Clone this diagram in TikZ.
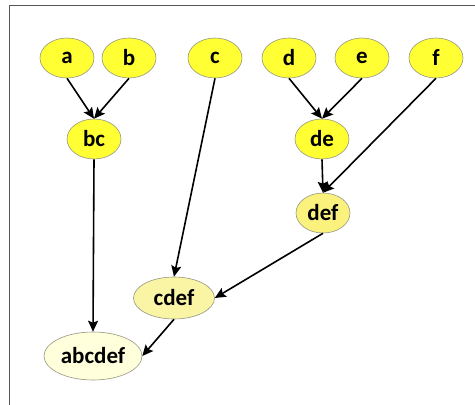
\documentclass[tikz,border=0pt]{standalone}
\usepackage{fontspec}
\setmainfont{Carlito}
\usetikzlibrary{shapes.geometric,arrows.meta}
\definecolor{leafyellow}{RGB}{255,255,51}
\definecolor{midyellow}{RGB}{250,242,125}
\definecolor{paleyellow}{RGB}{250,244,165}
\definecolor{creamyellow}{RGB}{255,255,220}
\definecolor{outlinegrey}{RGB}{150,150,130}
\definecolor{framegrey}{RGB}{85,85,85}
\tikzset{
  merge/.style={ellipse, draw=outlinegrey, line width=0.6pt, inner sep=0pt,
    minimum width=54pt, minimum height=40pt,
    font=\fontsize{23}{26}\selectfont\bfseries},
  link/.style={line width=1.6pt, -{Stealth[length=11pt,width=10pt,inset=2pt]}},
}
\begin{document}
\begin{tikzpicture}[x=1pt,y=-1pt]
  \useasboundingbox (0,0) rectangle (475,405);
  \fill[white] (0,0) rectangle (475,405);
  % frame edges
  \coordinate (frameTL) at (9.5,5.5);
  \coordinate (frameTR) at (475,5.5);
  \coordinate (frameBL) at (9.5,405);
  \draw[framegrey, line width=1.4pt] (frameTR) -- (frameTL) -- (frameBL);

  % leaves
  \node[merge, fill=leafyellow] (a) at (67,58) {a};
  \node[merge, fill=leafyellow] (b) at (129,58) {b};
  \node[merge, fill=leafyellow] (c) at (215,58) {c};
  \node[merge, fill=leafyellow] (d) at (289,58) {d};
  \node[merge, fill=leafyellow] (e) at (362,58) {e};
  \node[merge, fill=leafyellow] (f) at (436,58) {f};

  % merged sets
  \node[merge, fill=leafyellow] (bc) at (94,139) {bc};
  \node[merge, fill=leafyellow] (de) at (322,139) {de};
  \node[merge, fill=midyellow] (def) at (323,213) {def};
  \node[merge, fill=paleyellow, minimum width=81pt, minimum height=42pt] (cdef) at (174,298) {cdef};
  \node[merge, fill=creamyellow, minimum width=98pt, minimum height=48pt] (abcdef) at (93,356) {abcdef};

  % connectors
  \draw[link] (a.south) -- (bc.north);
  \draw[link] (b.south) -- (bc.north);
  \draw[link] (d.south) -- (de.north);
  \draw[link] (e.south) -- (de.north);
  \draw[link] (de.south) -- (def.north);
  \draw[link] (f.south) -- (def.north);
  \draw[link] (c.south) -- (cdef.north);
  \draw[link] (def.south) -- (cdef.east);
  \draw[link] (bc.south) -- (abcdef.north);
  \draw[link] (cdef.south) -- (abcdef.east);
\end{tikzpicture}
\end{document}
